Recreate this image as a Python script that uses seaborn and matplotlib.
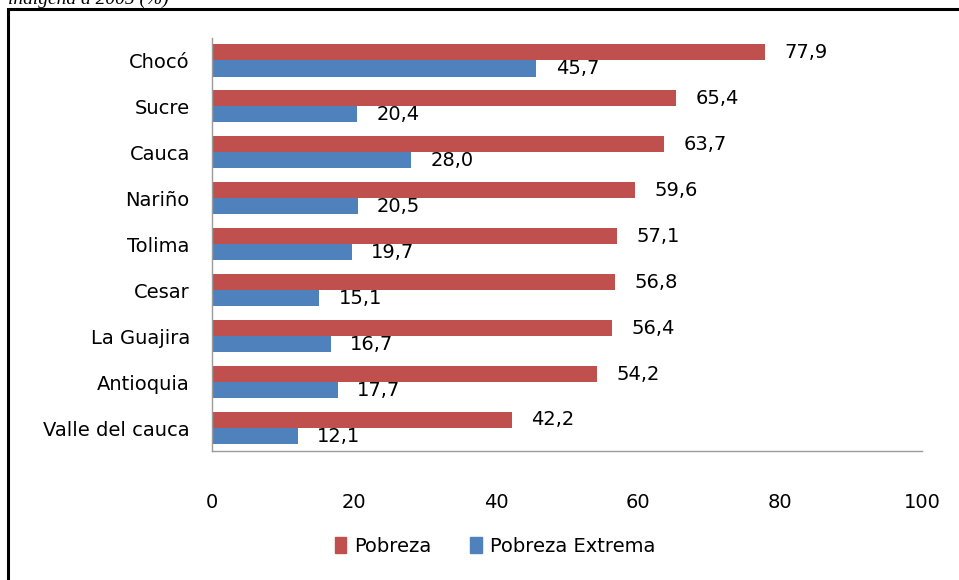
import pandas as pd
import matplotlib.pyplot as plt
import seaborn as sns
from matplotlib.patches import Rectangle

# Data
departamentos = ["Chocó", "Sucre", "Cauca", "Nariño", "Tolima", "Cesar",
                 "La Guajira", "Antioquia", "Valle del cauca"]
pobreza = [77.9, 65.4, 63.7, 59.6, 57.1, 56.8, 56.4, 54.2, 42.2]
pobreza_extrema = [45.7, 20.4, 28.0, 20.5, 19.7, 15.1, 16.7, 17.7, 12.1]
series = ["Pobreza", "Pobreza Extrema"]
colores = ["#C0504D", "#4F81BD"]
x_ticks = [0, 20, 40, 60, 80, 100]

df = pd.DataFrame({
    "departamento": departamentos * 2,
    "serie": [series[0]] * len(departamentos) + [series[1]] * len(departamentos),
    "valor": pobreza + pobreza_extrema,
})

sns.set_style("white")
plt.rcParams["font.family"] = ["DejaVu Sans"]
plt.rcParams["text.color"] = "black"
plt.rcParams["xtick.color"] = "black"
plt.rcParams["ytick.color"] = "black"

fig = plt.figure(figsize=(9.59, 5.80), dpi=100)
ax = fig.add_axes([212 / 959, 1 - 451 / 580, (922 - 212) / 959, (451 - 37.5) / 580])

sns.barplot(data=df, y="departamento", x="valor", hue="serie", order=departamentos,
            hue_order=series, palette=colores, orient="h", width=0.7,
            saturation=1, linewidth=0, ax=ax, legend=False)

for cont in ax.containers:
    ax.bar_label(cont, labels=[f"{v:.1f}".replace(".", ",") for v in cont.datavalues],
                 padding=14, fontsize=14, color="black")

ax.set_xlim(0, 100)
ax.set_xticks(x_ticks)
ax.set_xlabel("")
ax.set_ylabel("")
ax.tick_params(axis="x", labelsize=14, pad=30, length=0)
ax.tick_params(axis="y", labelsize=14, pad=16, length=0)
for side in ["top", "right"]:
    ax.spines[side].set_visible(False)
for side in ["left", "bottom"]:
    ax.spines[side].set_color("#9a9a9a")
    ax.spines[side].set_linewidth(1)

# legend
handles = [Rectangle((0, 0), 1, 1, color=c) for c in colores]
fig.legend(handles, series, loc="center", bbox_to_anchor=(495 / 959, 1 - 546 / 580),
           ncol=2, frameon=False, fontsize=14, handlelength=0.6, handleheight=0.9,
           handletextpad=0.4, columnspacing=2.0)

# cut title (as in the source image) and border
fig.text(8 / 959, 1 - 4 / 580, "indígena a 2005 (%)", fontsize=14, fontstyle="italic",
         family=["Liberation Serif", "DejaVu Serif"], va="baseline", ha="left")
fig.patches.append(Rectangle((8 / 959, -0.05), 1.1, 1 - 9 / 580 + 0.05,
                             transform=fig.transFigure, fill=False,
                             edgecolor="black", linewidth=2.2))

fig.savefig("out.png", dpi=100)
